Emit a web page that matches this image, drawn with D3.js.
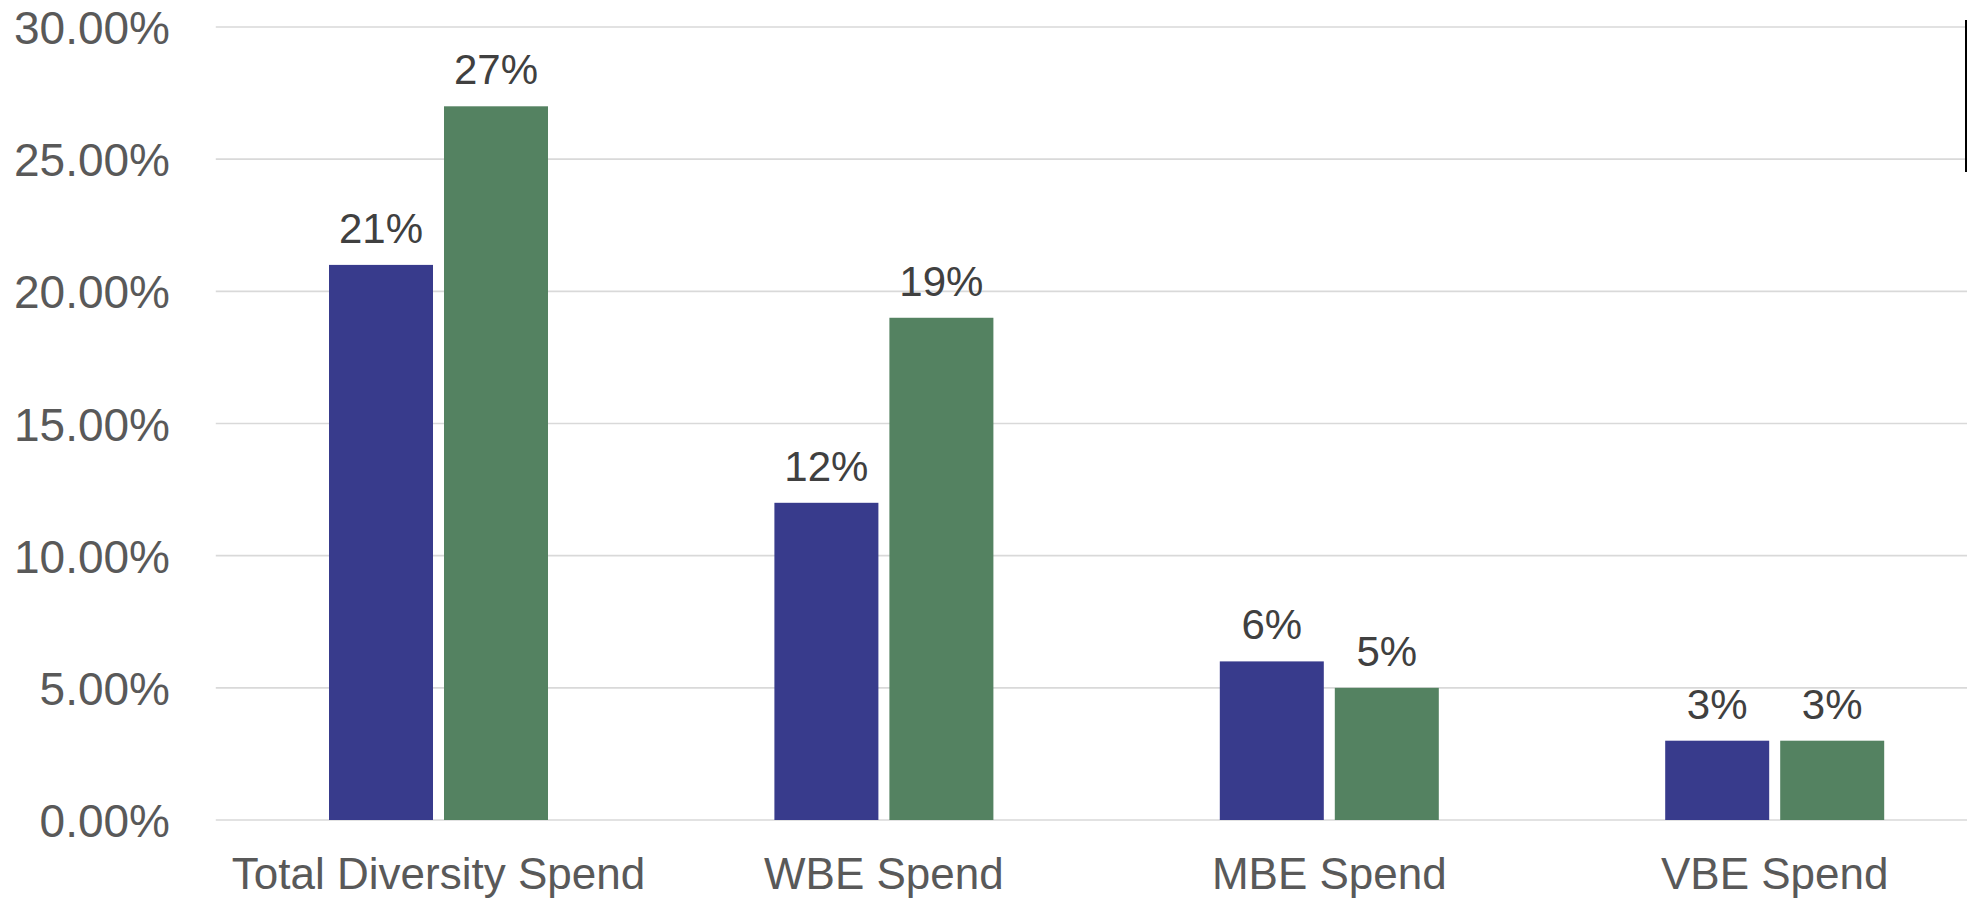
<!DOCTYPE html>
<html>
<head>
<meta charset="utf-8">
<script src="https://cdn.jsdelivr.net/npm/d3@7/dist/d3.min.js"></script>
<style>
  html, body { margin: 0; padding: 0; background: #ffffff; }
  svg { display: block; }
</style>
</head>
<body>
<svg id="chart" width="1967" height="901"></svg>
<script>
const categories = ["Total Diversity Spend", "WBE Spend", "MBE Spend", "VBE Spend"];
const seriesNames = ["Series A", "Series B"];
const seriesA = [21, 12, 6, 3];
const seriesB = [27, 19, 5, 3];
const yTicks = [0, 5, 10, 15, 20, 25, 30];
const seriesColors = ["#383b8c", "#548261"];

const svg = d3.select("#chart");
const font = "'Liberation Sans', Arial, sans-serif";

const x = d3.scaleBand().domain(categories).range([215.8, 1997.4]).padding(0);
const bw = x.bandwidth();
const xSub = d3.scaleBand().domain(seriesNames)
  .range([bw / 2 - 109.5, bw / 2 + 109.5]).paddingInner(11 / 115).paddingOuter(0);
const y = d3.scaleLinear().domain([0, 30]).range([820, 27]);

// gridlines
svg.append("g").selectAll("line").data(yTicks).join("line")
  .attr("x1", x.range()[0]).attr("x2", x.range()[1])
  .attr("y1", d => y(d)).attr("y2", d => y(d))
  .attr("stroke", "#d9d9d9").attr("stroke-width", 1.6);

// y axis labels
const yAxis = d3.axisLeft(y).tickValues(yTicks).tickSize(0).tickPadding(0)
  .tickFormat(d => d3.format(".2f")(d) + "%");
const gy = svg.append("g").attr("transform", "translate(170,0)").call(yAxis);
gy.select(".domain").remove();
gy.selectAll("text").attr("font-family", font).attr("font-size", 46)
  .attr("fill", "#595959").attr("dy", "0.36em");

// x axis labels
const xAxis = d3.axisBottom(x).tickSize(0).tickPadding(0);
const gx = svg.append("g").attr("transform", "translate(0,889)").call(xAxis);
gx.select(".domain").remove();
gx.selectAll("text").attr("font-family", font).attr("font-size", 44)
  .attr("fill", "#595959").attr("dy", 0);

// bars
const rows = categories.map((c, i) => ({ cat: c, vals: [
  { s: seriesNames[0], v: seriesA[i], k: 0 },
  { s: seriesNames[1], v: seriesB[i], k: 1 }
]}));

const groups = svg.append("g").selectAll("g").data(rows).join("g")
  .attr("transform", d => `translate(${x(d.cat)},0)`);

groups.selectAll("rect").data(d => d.vals).join("rect")
  .attr("x", d => xSub(d.s)).attr("width", xSub.bandwidth())
  .attr("y", d => y(d.v)).attr("height", d => y(0) - y(d.v))
  .attr("fill", d => seriesColors[d.k]);

groups.selectAll("text").data(d => d.vals).join("text")
  .attr("x", d => xSub(d.s) + xSub.bandwidth() / 2)
  .attr("y", d => y(d.v) - 22)
  .attr("text-anchor", "middle")
  .attr("font-family", font).attr("font-size", 42)
  .attr("fill", "#404040")
  .text(d => d3.format("d")(d.v) + "%");

// partial legend border at right edge
svg.append("line").attr("x1", 1966).attr("x2", 1966).attr("y1", 20).attr("y2", 172)
  .attr("stroke", "#000000").attr("stroke-width", 2);
</script>
</body>
</html>
